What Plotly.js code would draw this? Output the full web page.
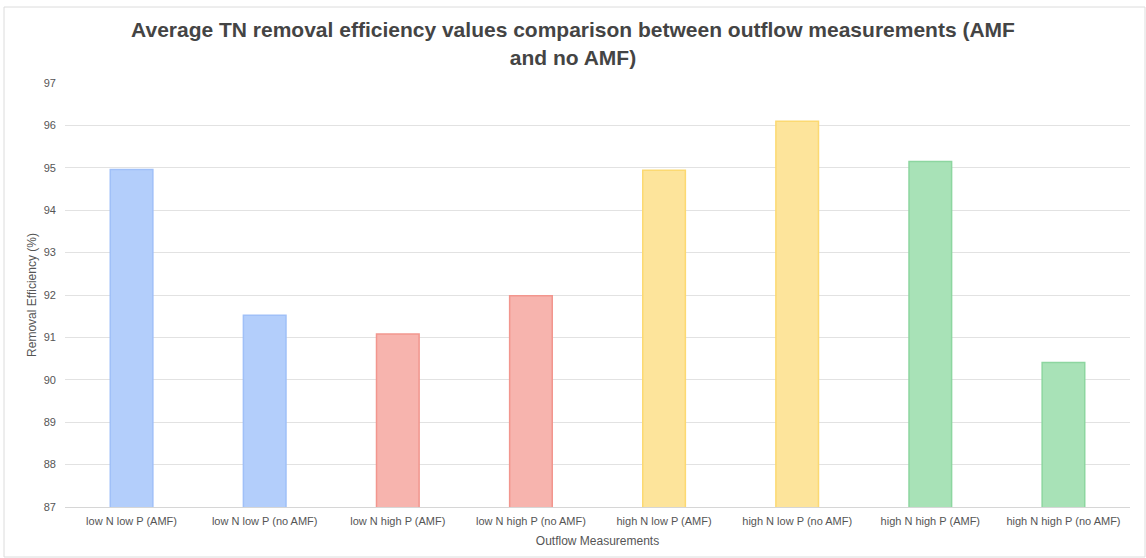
<!DOCTYPE html>
<html>
<head>
<meta charset="utf-8">
<script src="https://cdn.plot.ly/plotly-3.0.1.min.js"></script>
<style>html,body{margin:0;padding:0;background:#fff;}#chart{width:1146px;height:558px;}</style>
</head>
<body>
<div id="chart"></div>
<script>
const categories = ["low N low P (AMF)", "low N low P (no AMF)", "low N high P (AMF)", "low N high P (no AMF)", "high N low P (AMF)", "high N low P (no AMF)", "high N high P (AMF)", "high N high P (no AMF)"];
const values = [94.96, 91.52, 91.08, 91.98, 94.94, 96.10, 95.15, 90.41];
const fillColors = ["#b3cefb", "#b3cefb", "#f7b4ae", "#f7b4ae", "#fde49b", "#fde49b", "#a8e2b7", "#a8e2b7"];
const lineColors = ["#a0c0f8", "#a0c0f8", "#f2968e", "#f2968e", "#fcd972", "#fcd972", "#8dd6a0", "#8dd6a0"];
const yTicks = [87, 88, 89, 90, 91, 92, 93, 94, 95, 96, 97];

const trace = {
  type: "bar",
  x: categories,
  y: values,
  marker: {color: fillColors, line: {color: lineColors, width: 1.5}},
  hoverinfo: "x+y"
};

const L = 65, R = 16, T = 83, B = 51;
const PW = 1146 - L - R, PH = 558 - T - B;

const layout = {
  width: 1146, height: 558,
  margin: {l: L, r: R, t: T, b: B},
  paper_bgcolor: "#fff", plot_bgcolor: "#fff",
  font: {family: "Liberation Sans, Arial, sans-serif", color: "#555"},
  title: {
    text: "Average TN removal efficiency values comparison between outflow measurements (AMF<br>and no AMF)",
    font: {family: "Liberation Sans, Arial, sans-serif", size: 21, color: "#444", weight: "bold"},
    x: 0.5, xanchor: "center", y: 0.933, yanchor: "top"
  },
  bargap: 0.68,
  showlegend: false,
  xaxis: {
    type: "category",
    showline: true, linecolor: "#d6d6d6", linewidth: 1,
    ticks: "", tickfont: {size: 11, color: "#555"},
    ticklabelstandoff: 4,
    title: {text: "Outflow Measurements", font: {size: 12, color: "#555"}, standoff: 10},
    showgrid: false, fixedrange: true
  },
  yaxis: {
    range: [87, 97],
    tickvals: yTicks,
    ticktext: yTicks.map(String),
    tickfont: {size: 11, color: "#555"},
    ticklabelstandoff: 8,
    gridcolor: "#e2e2e2", gridwidth: 1,
    zeroline: false, ticks: "", ticklen: 0,
    title: {text: "Removal Efficiency (%)", font: {size: 12, color: "#555"}, standoff: 4},
    fixedrange: true
  },
  shapes: [{
    type: "rect", xref: "paper", yref: "paper",
    x0: (4 - L) / PW, x1: (1145 - L) / PW, y0: -(B - 1) / PH, y1: (558 - B - 7) / PH,
    line: {color: "#dcdcdc", width: 1}, fillcolor: "rgba(0,0,0,0)", layer: "below"
  }]
};

Plotly.newPlot("chart", [trace], layout, {displayModeBar: false, staticPlot: true});
</script>
</body>
</html>
